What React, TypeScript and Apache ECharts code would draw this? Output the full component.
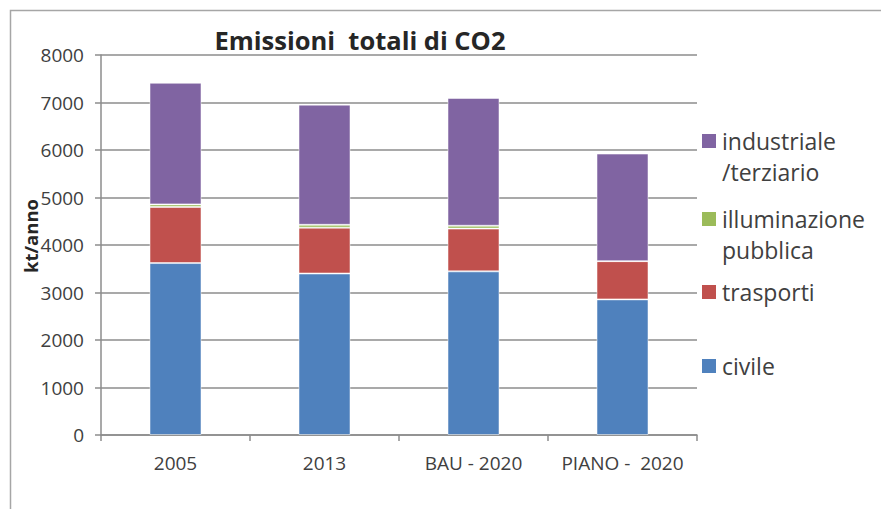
import React, { useEffect, useRef } from "react";
import * as echarts from "echarts";

const categories = ["2005", "2013", "BAU - 2020", "PIANO -  2020"];
const civile = [3620, 3400, 3445, 2855];
const trasporti = [1180, 965, 900, 805];
const illuminazione = [55, 60, 60, 0];
const industriale = [2560, 2530, 2690, 2265];
const yTicks = [0, 1000, 2000, 3000, 4000, 5000, 6000, 7000, 8000];

const seriesNames = ["civile", "trasporti", "illuminazione\npubblica", "industriale\n/terziario"];
const seriesData = [civile, trasporti, illuminazione, industriale];
const colors = ["#4F81BD", "#C0504D", "#9BBB59", "#8064A2"];

const FONT = "'Open Sans', 'Liberation Sans', sans-serif";
const TEXT = "#404040";

export default function App() {
  const ref = useRef<HTMLDivElement>(null);
  useEffect(() => {
    if (!ref.current) return;
    const chart = echarts.init(ref.current, undefined, { renderer: "svg" });

    const legendOrder = [3, 2, 1, 0];
    const legendY = [141, 219, 292, 366];
    const legendGraphics: any[] = [];
    legendOrder.forEach((si, k) => {
      legendGraphics.push({
        type: "rect",
        shape: { x: 702, y: legendY[k] - 7, width: 14, height: 14 },
        style: { fill: colors[si] },
      });
      legendGraphics.push({
        type: "text",
        x: 722,
        y: legendY[k] - 16,
        style: {
          text: seriesNames[si],
          font: `23px ${FONT}`,
          fill: TEXT,
          lineHeight: 31,
          verticalAlign: "top",
          align: "left",
        },
      });
    });

    chart.setOption({
      animation: false,
      backgroundColor: "#ffffff",
      grid: { left: 101, right: 184, top: 55, bottom: 74, containLabel: false },
      xAxis: {
        type: "category",
        data: categories,
        axisLine: { lineStyle: { color: "#8c8c8c", width: 1.5 } },
        axisTick: { show: true, length: 6, lineStyle: { color: "#8c8c8c", width: 1.5 } },
        axisLabel: { color: TEXT, fontSize: 19, fontFamily: FONT, margin: 18, interval: 0 },
      },
      yAxis: {
        type: "value",
        min: yTicks[0],
        max: yTicks[yTicks.length - 1],
        interval: 1000,
        axisLine: { show: true, lineStyle: { color: "#8c8c8c", width: 1.5 } },
        axisTick: { show: true, length: 6, lineStyle: { color: "#8c8c8c", width: 1.5 } },
        axisLabel: {
          color: TEXT,
          fontSize: 19,
          fontFamily: FONT,
          margin: 17,
          formatter: (v: number) => String(v),
        },
        splitLine: { lineStyle: { color: "#8c8c8c", width: 1.5 } },
      },
      series: seriesData.map((d, i) => ({
        name: seriesNames[i],
        type: "bar",
        stack: "total",
        data: d,
        barWidth: 52,
        itemStyle: { color: colors[i], borderColor: "rgba(255,255,255,0.5)", borderWidth: 1 },
      })),
      graphic: [
        {
          type: "rect",
          shape: { x: 10.5, y: 10.5, width: 900, height: 600 },
          style: { fill: "none", stroke: "#a6a6a6", lineWidth: 1.5 },
          silent: true,
        },
        {
          type: "text",
          x: 360,
          y: 40,
          style: {
            text: "Emissioni  totali di CO2",
            font: `bold 25.5px ${FONT}`,
            fill: "#262626",
            align: "center",
            verticalAlign: "middle",
          },
        },
        {
          type: "text",
          x: 30,
          y: 236,
          rotation: Math.PI / 2,
          style: {
            text: "kt/anno",
            font: `bold 18.5px ${FONT}`,
            fill: "#262626",
            align: "center",
            verticalAlign: "middle",
          },
        },
        ...legendGraphics,
      ],
    });
    return () => chart.dispose();
  }, []);
  return <div ref={ref} style={{ width: 881, height: 509, position: "absolute", left: 0, top: 0 }} />;
}
